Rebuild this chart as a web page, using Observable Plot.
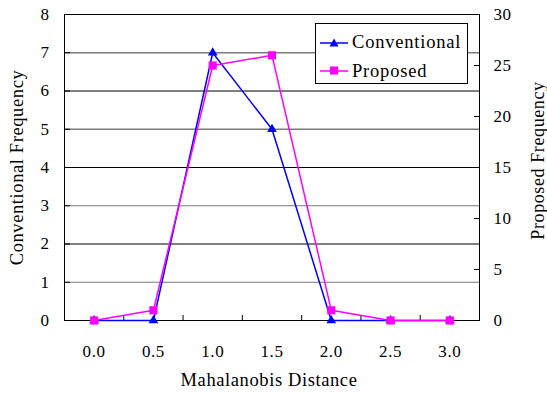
<!DOCTYPE html>
<html>
<head>
<meta charset="utf-8">
<script src="https://cdn.jsdelivr.net/npm/d3@7"></script>
<script src="https://cdn.jsdelivr.net/npm/@observablehq/plot@0.6"></script>
<style>
  html, body { margin: 0; padding: 0; background: #fff; }
  #wrap { position: relative; width: 547px; height: 394px; font-family: "Liberation Serif", "Times New Roman", serif; }
  #wrap svg, #wrap svg g, #wrap svg text { font-family: "Liberation Serif", "Times New Roman", serif !important; font-variant: normal !important; }
  #wrap svg text { letter-spacing: 0.6px; }
  #legend { position: absolute; left: 315px; top: 23px; width: 151px; height: 59px; border: 1px solid #000; background: #fff; }
  .row { position: absolute; left: 4px; height: 20px; display: flex; align-items: center; font-size: 18.5px; letter-spacing: 0.8px; color: #000; white-space: nowrap; }
  .row svg { margin-right: 4px; }
</style>
</head>
<body>
<div id="wrap"></div>
<script>
// ---- data ----
const distances = [0.0, 0.5, 1.0, 1.5, 2.0, 2.5, 3.0];
const conventional = [0, 0, 7, 5, 0, 0, 0];
const proposed = [0, 1, 25, 26, 1, 0, 0];
const leftTicks = [0, 1, 2, 3, 4, 5, 6, 7, 8];
const rightTicks = [0, 5, 10, 15, 20, 25, 30];
const gridLines = [1, 2, 3, 4, 5, 6, 7];
const xBoundaries = [0.25, 0.75, 1.25, 1.75, 2.25, 2.75];
const leftMax = 8, rightMax = 30;
const seriesNames = ["Conventional", "Proposed"];
const seriesColors = ["#0000FF", "#FF00FF"];

const toLeft = v => v * leftMax / rightMax;
const convData = distances.map((d, i) => ({d, v: conventional[i]}));
const propData = distances.map((d, i) => ({d, v: toLeft(proposed[i])}));

const font = '"Liberation Serif", serif';
const txt = {fontFamily: font, fontVariant: "normal"};
const chart = Plot.plot({
  width: 547,
  height: 394,
  marginLeft: 64,
  marginRight: 68,
  marginTop: 14,
  marginBottom: 74,
  style: {fontFamily: font, fontSize: "17px", color: "#000", background: "#fff"},
  x: {domain: [-0.25, 3.25]},
  y: {domain: [0, leftMax]},
  marks: [
    Plot.ruleY(gridLines, {y: d => d, stroke: d => d % 2 ? "#7a7a7a" : "#000", strokeWidth: d => (d === 7 || d === 5) ? 1.5 : 1}),
    Plot.frame({stroke: "#000", strokeWidth: 1}),
    Plot.axisX({...txt, ticks: distances, tickFormat: d3.format(".1f"), tickSize: 0, tickPadding: 24, label: null}),
    Plot.axisX({ticks: xBoundaries, tickSize: -5, text: null, label: null}),
    Plot.axisY({...txt, ticks: leftTicks, tickSize: 0, tickPadding: 15, label: null}),
    Plot.axisY({ticks: leftTicks.slice(1, -1), tickSize: -6, text: null, label: null}),
    Plot.axisY({...txt, anchor: "right", ticks: rightTicks.map(toLeft), tickFormat: d => String(Math.round(d * rightMax / leftMax)), tickSize: 0, tickPadding: 14, label: null}),
    Plot.axisY({anchor: "right", ticks: rightTicks.slice(1, -1).map(toLeft), tickSize: -6, text: null, label: null}),
    Plot.line(convData, {x: "d", y: "v", stroke: seriesColors[0], strokeWidth: 1.5}),
    Plot.dot(convData, {x: "d", y: "v", symbol: "triangle", r: 3.6, fill: seriesColors[0], stroke: "none"}),
    Plot.line(propData, {x: "d", y: "v", stroke: seriesColors[1], strokeWidth: 1.5}),
    Plot.dot(propData, {x: "d", y: "v", symbol: "square", r: 4.6, fill: seriesColors[1], stroke: "none"}),
    Plot.text(["Conventional Frequency"], {...txt, frameAnchor: "left", dx: -47, rotate: -90, fontSize: 18.5, lineAnchor: "middle", textAnchor: "middle"}),
    Plot.text(["Proposed Frequency"], {...txt, frameAnchor: "right", dx: 59, dy: -7, rotate: -90, fontSize: 18, lineAnchor: "middle", textAnchor: "middle"}),
    Plot.text(["Mahalanobis Distance"], {...txt, frameAnchor: "bottom", dx: -3, dy: 60, fontSize: 18.5, lineAnchor: "middle", textAnchor: "middle"})
  ]
});
const wrap = document.getElementById("wrap");
wrap.appendChild(chart);

// legend
const legend = document.createElement("div");
legend.id = "legend";
const symbols = ["triangle", "square"];
seriesNames.forEach((name, i) => {
  const row = document.createElement("div");
  row.className = "row";
  row.style.top = (i === 0 ? 8.5 : 37) + "px";
  const sym = symbols[i] === "triangle"
    ? `<path d="M14,2.5 L18.5,10.5 L9.5,10.5 Z" fill="${seriesColors[i]}"/>`
    : `<rect x="10" y="2.5" width="8" height="8" fill="${seriesColors[i]}"/>`;
  row.innerHTML = `<svg width="28" height="14"><line x1="0" x2="28" y1="7" y2="7" stroke="${seriesColors[i]}" stroke-width="1.5"/>${sym}</svg><span>${name}</span>`;
  legend.appendChild(row);
});
wrap.appendChild(legend);
</script>
</body>
</html>
